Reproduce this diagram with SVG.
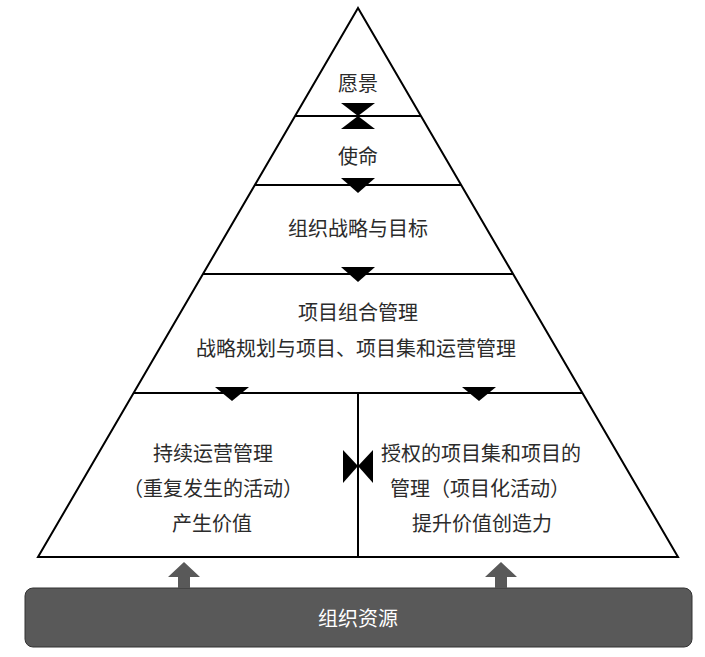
<svg xmlns="http://www.w3.org/2000/svg" width="705" height="657" viewBox="0 0 705 657">
<style>
.ln{stroke:#000;stroke-width:2;fill:none}
.tri{fill:#000;stroke:none}
.t{font-family:"Noto Sans CJK SC","Liberation Sans",sans-serif;font-size:20px;fill:#2b2b2b;text-anchor:middle;dominant-baseline:central}
.w{fill:#fff}
.up{fill:#595959}
</style>
<rect width="705" height="657" fill="#fff"/>
<g id="pyramid">
<polygon class="ln" points="358,8 38,557 678,557" stroke-linejoin="miter"/>
</g>
<g id="layer-vision"><text class="t" x="358" y="82">愿景</text></g>
<g id="layer-mission"><text class="t" x="358" y="155">使命</text></g>
<g id="layer-strategy"><text class="t" x="358" y="227">组织战略与目标</text></g>
<g id="layer-portfolio">
<text class="t" x="358" y="311">项目组合管理</text>
<text class="t" x="356" y="347">战略规划与项目、项目集和运营管理</text>
</g>
<g id="layer-operations">
<text class="t" x="213" y="452">持续运营管理</text>
<text class="t" x="213" y="487">（重复发生的活动）</text>
<text class="t" x="212" y="522">产生价值</text>
</g>
<g id="layer-projects">
<text class="t" x="481" y="452">授权的项目集和项目的</text>
<text class="t" x="480" y="487">管理（项目化活动）</text>
<text class="t" x="482" y="522">提升价值创造力</text>
</g>
<g id="resources">
<rect x="25" y="588" width="667" height="59" rx="8" fill="#595959" stroke="#333" stroke-width="1"/>
<text class="t w" x="358" y="617">组织资源</text>
</g>
<g id="connectors">
<line class="ln" x1="295" y1="116" x2="421" y2="116"/>
<line class="ln" x1="255" y1="185" x2="461" y2="185"/>
<line class="ln" x1="203" y1="274" x2="513" y2="274"/>
<line class="ln" x1="134" y1="393" x2="582" y2="393"/>
<line class="ln" x1="358" y1="393" x2="358" y2="557"/>
<polygon class="tri" points="341,103 375,103 358,116"/>
<polygon class="tri" points="341,129 375,129 358,116"/>
<polygon class="tri" points="341,178 375,178 358,193"/>
<polygon class="tri" points="341,267 375,267 358,282"/>
<polygon class="tri" points="215,387 249,387 232,401"/>
<polygon class="tri" points="462,387 496,387 479,401"/>
<polygon class="tri" points="343,450 343,483 358,466"/>
<polygon class="tri" points="373,450 373,483 358,466"/>
<polygon class="up" points="184,562 200,577 190,577 190,588 178,588 178,577 168,577"/>
<polygon class="up" points="501,562 517,577 507,577 507,588 495,588 495,577 485,577"/>
</g>
</svg>
